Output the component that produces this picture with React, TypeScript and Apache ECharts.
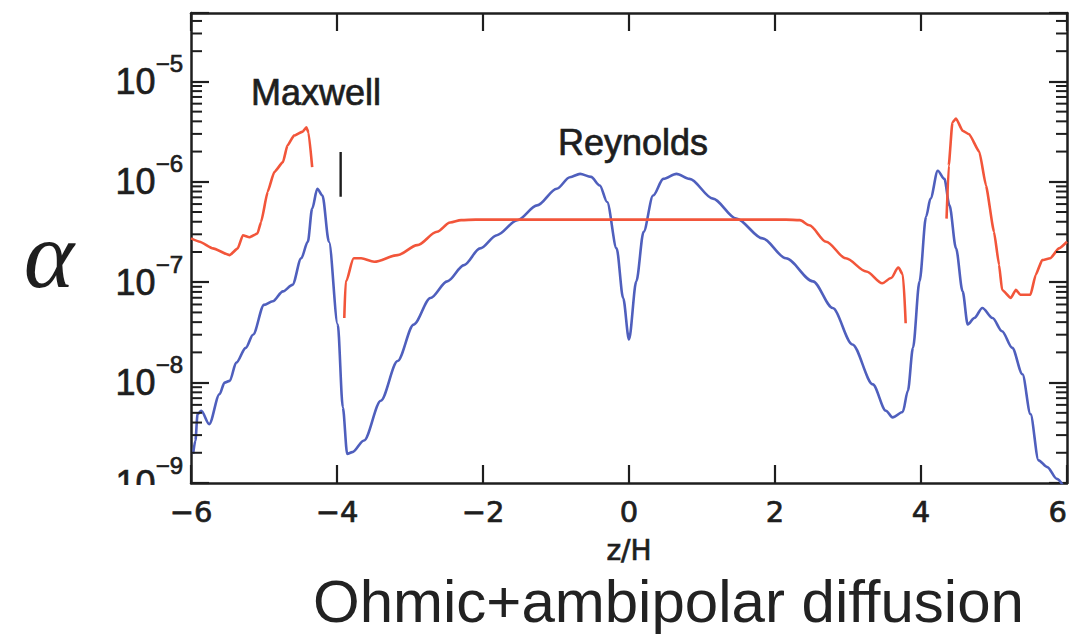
import React, { useEffect, useRef } from "react";
import * as echarts from "echarts";

// ---- data (z/H, alpha) ----
const reynoldsZ = [
  -5.97, -5.94, -5.91, -5.86, -5.75, -5.61, -5.54, -5.47, -5.38, -5.25, -5.15, -5.0, -4.88, -4.74, -4.61,
  -4.49, -4.4, -4.34, -4.27, -4.2, -4.11, -3.99, -3.92, -3.86, -3.79, -3.63, -3.4, -3.17, -2.95, -2.72,
  -2.49, -2.26, -2.04, -1.81, -1.53, -1.26, -0.99, -0.81, -0.67, -0.52, -0.4, -0.3, -0.17, -0.08, 0.0,
  0.1, 0.2, 0.33, 0.47, 0.65, 0.83, 1.15, 1.47, 1.83, 2.15, 2.52, 2.79, 3.06, 3.34, 3.52, 3.61,
  3.75, 3.82, 3.89, 3.98, 4.07, 4.13, 4.23, 4.32, 4.39, 4.48, 4.57, 4.64, 4.73, 4.84, 4.98, 5.11,
  5.25, 5.39, 5.5, 5.61, 5.73, 5.86, 6.0,
];
const reynoldsAlpha = [
  1.95e-9, 2.65e-9, 4.85e-9, 5.24e-9, 3.86e-9, 7.66e-9, 1.0e-8, 1.04e-8, 1.58e-8, 2.22e-8, 3.0e-8, 5.95e-8, 6.45e-8, 8.1e-8, 9.4e-8,
  1.73e-7, 2.53e-7, 5.41e-7, 8.53e-7, 7.3e-7, 2.53e-7, 3.8e-8, 5.65e-9, 1.95e-9, 2.03e-9, 2.65e-9, 6.6e-9, 1.64e-8, 3.78e-8, 6.95e-8,
  1.02e-7, 1.48e-7, 2.17e-7, 2.94e-7, 4.14e-7, 5.82e-7, 8.53e-7, 1.11e-6, 1.2e-6, 1.12e-6, 9.2e-7, 6.3e-7, 2.17e-7, 6.95e-8, 2.69e-8,
  1.02e-7, 3.18e-7, 7.3e-7, 1.07e-6, 1.2e-6, 1.07e-6, 6.8e-7, 4.3e-7, 2.73e-7, 1.73e-7, 1.02e-7, 5.53e-8, 2.4e-8, 9.6e-9, 5.24e-9, 4.5e-9,
  5.1e-9, 8.3e-9, 2.22e-8, 1.02e-7, 4.5e-7, 6.8e-7, 1.29e-6, 1.07e-6, 5.82e-7, 2.17e-7, 8.1e-8, 3.8e-8, 4.4e-8, 5.53e-8, 4.4e-8, 3.25e-8,
  2.22e-8, 1.21e-8, 4.85e-9, 1.68e-9, 1.44e-9, 1.1e-9, 8.0e-10,
];

const maxwellLeftZ = [-6.0, -5.88, -5.7, -5.47, -5.36, -5.29, -5.2, -5.09, -5.04, -4.95, -4.86, -4.74, -4.68, -4.59, -4.47, -4.42, -4.39, -4.34];
const maxwellLeftAlpha = [2.73e-7, 2.53e-7, 2.17e-7, 1.86e-7, 2.17e-7, 2.94e-7, 2.8e-7, 3.05e-7, 3.98e-7, 7.94e-7, 1.25e-6, 1.57e-6, 2.29e-6, 2.88e-6, 3.16e-6, 3.48e-6, 3.1e-6, 1.4e-6];

const maxwellMidZ = [-3.9, -3.88, -3.77, -3.67, -3.49, -3.17, -2.9, -2.63, -2.45, -2.3, -2.1, 0.0, 2.15, 2.34, 2.47, 2.7, 2.97, 3.25, 3.47, 3.59, 3.69, 3.75, 3.79];
const maxwellMidAlpha = [4.4e-8, 1.02e-7, 1.73e-7, 1.73e-7, 1.6e-7, 1.86e-7, 2.34e-7, 3.18e-7, 3.93e-7, 4.15e-7, 4.2e-7, 4.2e-7, 4.2e-7, 4.15e-7, 3.69e-7, 2.53e-7, 1.73e-7, 1.28e-7, 9.77e-8, 1.1e-7, 1.4e-7, 1.2e-7, 3.9e-8];

const maxwellRightZ = [4.35, 4.38, 4.43, 4.48, 4.57, 4.66, 4.8, 4.89, 5.0, 5.07, 5.11, 5.23, 5.3, 5.36, 5.5, 5.57, 5.66, 5.77, 5.89, 6.0];
const maxwellRightAlpha = [4.3e-7, 1.45e-6, 3.9e-6, 4.27e-6, 3.22e-6, 2.98e-6, 1.98e-6, 9.2e-7, 3.18e-7, 1.48e-7, 8.4e-8, 6.95e-8, 8.4e-8, 7.5e-8, 7.5e-8, 1.18e-7, 1.66e-7, 1.73e-7, 2.17e-7, 2.53e-7];

const markerZ = [-3.95, -3.95];
const markerAlpha = [1.98e-6, 7.1e-7];

const xTicks = [-6, -4, -2, 0, 2, 4, 6];
const minorMultipliers = [2, 3, 4, 5, 6, 7, 8, 9];
const decadeExponents = [-9, -8, -7, -6, -5];

const Y_MIN = 1e-9;
const Y_MAX = 4.8e-5;
const X_MIN = xTicks[0];
const X_MAX = xTicks[xTicks.length - 1];

const RED = "#f2553a";
const BLUE = "#4f5fbd";
const INK = "#1e1e1e";

const zip = (xs: number[], ys: number[]) => xs.map((x, i) => [x, ys[i]]);

export default function App() {
  const ref = useRef<HTMLDivElement>(null);
  useEffect(() => {
    if (!ref.current) return;
    const chart = echarts.init(ref.current, undefined, { renderer: "svg" });

    const minorData: number[][] = [];
    decadeExponents.forEach((e) =>
      minorMultipliers.forEach((m) => {
        const v = m * Math.pow(10, e);
        if (v < Y_MAX) minorData.push([X_MIN, v]);
      })
    );

    const yLabel = (v: number) => {
      const e = Math.log10(v);
      if (Math.abs(e - Math.round(e)) > 1e-6) return "";
      return `{b|10}{s|\u2212${-Math.round(e)}}`;
    };

    const lineSeries = (data: number[][], color: string, width = 2.6, smooth: number | boolean = 0.3) => ({
      type: "line",
      data,
      showSymbol: false,
      symbol: "none",
      smooth,
      smoothMonotone: "x",
      lineStyle: { color, width },
      z: 3,
    });

    const tickStyle = { inside: true, length: 18, lineStyle: { color: INK, width: 2.2 } };
    const lineStyle = { onZero: false, lineStyle: { color: INK, width: 2.5 } };
    const thick = { textBorderColor: INK, textBorderWidth: 0.7 };

    chart.setOption({
      animation: false,
      backgroundColor: "#ffffff",
      grid: { left: 191, right: 2, top: 13, bottom: 153, outerBoundsMode: "none", containLabel: false },
      xAxis: [
        {
          type: "value",
          min: X_MIN,
          max: X_MAX,
          interval: 2,
          position: "bottom",
          axisLine: lineStyle,
          axisTick: tickStyle,
          splitLine: { show: false },
          axisLabel: {
            margin: 14,
            color: INK,
            fontSize: 29,
            fontFamily: "DejaVu Sans",
            alignMaxLabel: "right",
            ...thick,
            formatter: (v: number) => (v < 0 ? "\u2212" + Math.abs(v) : String(v)),
          },
          name: "z/H",
          nameLocation: "middle",
          nameGap: 53,
          nameTextStyle: { color: INK, fontSize: 28, fontFamily: "DejaVu Sans", ...thick },
        },
        {
          type: "value",
          min: X_MIN,
          max: X_MAX,
          interval: 2,
          position: "top",
          axisLine: lineStyle,
          axisTick: tickStyle,
          splitLine: { show: false },
          axisLabel: { show: false },
        },
      ],
      yAxis: [
        {
          type: "log",
          logBase: 10,
          min: Y_MIN,
          max: Y_MAX,
          position: "left",
          axisLine: lineStyle,
          axisTick: tickStyle,
          splitLine: { show: false },
          minorTick: { show: false },
          axisLabel: {
            margin: 8,
            color: INK,
            formatter: yLabel,
            rich: {
              b: { fontSize: 36, lineHeight: 60, fontFamily: "Liberation Sans", color: INK, ...thick },
              s: { fontSize: 24, lineHeight: 24, verticalAlign: "top", fontFamily: "Liberation Sans", color: INK, ...thick },
            },
          },
        },
        {
          type: "log",
          logBase: 10,
          min: Y_MIN,
          max: Y_MAX,
          position: "right",
          axisLine: lineStyle,
          axisTick: tickStyle,
          splitLine: { show: false },
          axisLabel: { show: false },
        },
      ],
      series: [
        {
          type: "custom",
          coordinateSystem: "cartesian2d",
          data: minorData,
          encode: { x: 0, y: 1 },
          silent: true,
          z: 4,
          renderItem: (params: any, api: any) => {
            const v = api.value(1);
            const pL = api.coord([X_MIN, v]);
            const pR = api.coord([X_MAX, v]);
            return {
              type: "group",
              children: [
                { type: "line", shape: { x1: pL[0], y1: pL[1], x2: pL[0] + 11, y2: pL[1] }, style: { stroke: INK, lineWidth: 2 } },
                { type: "line", shape: { x1: pR[0], y1: pR[1], x2: pR[0] - 11, y2: pR[1] }, style: { stroke: INK, lineWidth: 2 } },
              ],
            };
          },
        },
        { name: "Reynolds", ...lineSeries(zip(reynoldsZ, reynoldsAlpha), BLUE) },
        { name: "Maxwell", ...lineSeries(zip(maxwellLeftZ, maxwellLeftAlpha), RED, 2.6, 0.15) },
        { name: "Maxwell", ...lineSeries(zip(maxwellMidZ, maxwellMidAlpha), RED) },
        { name: "Maxwell", ...lineSeries(zip(maxwellRightZ, maxwellRightAlpha), RED, 2.6, 0.15) },
        { name: "marker", ...lineSeries(zip(markerZ, markerAlpha), INK, 2.4, false) },
      ],
      graphic: [
        {
          type: "rect",
          shape: { x: 80, y: 485, width: 105, height: 12 },
          style: { fill: "#ffffff" },
          z: 100,
        },
        {
          type: "text",
          x: 316,
          y: 92,
          style: { text: "Maxwell", font: "36px 'Liberation Sans'", fill: INK, stroke: INK, lineWidth: 0.7, textAlign: "center", textVerticalAlign: "middle" },
        },
        {
          type: "text",
          x: 633,
          y: 142,
          style: { text: "Reynolds", font: "36px 'Liberation Sans'", fill: INK, stroke: INK, lineWidth: 0.7, textAlign: "center", textVerticalAlign: "middle" },
        },
        {
          type: "text",
          x: 49,
          y: 254,
          style: { text: "\u03b1", font: "italic 96px 'Liberation Serif'", fill: INK, textAlign: "center", textVerticalAlign: "middle" },
        },
        {
          type: "text",
          x: 313,
          y: 601,
          style: { text: "Ohmic+ambipolar diffusion", font: "60px 'Liberation Sans'", lineHeight: 60, fill: "#222222", textAlign: "left", textVerticalAlign: "middle" },
        },
      ],
    });
    return () => chart.dispose();
  }, []);
  return <div ref={ref} style={{ position: "fixed", left: 0, top: 0, width: 1069, height: 636 }} />;
}
